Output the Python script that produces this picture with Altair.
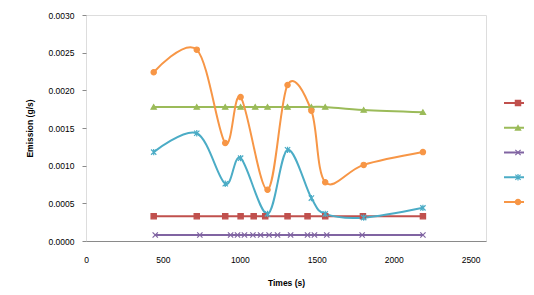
import altair as alt
import pandas as pd

# ---- data ----
series_names = ["Series2", "Series3", "Series4", "Series5", "Series6"]
series_colors = ["#C0504D", "#9BBB59", "#8064A2", "#4BACC6", "#F79646"]

t_red = [440, 720, 905, 1005, 1090, 1165, 1310, 1440, 1555, 1800, 2190]
v_red = [0.00033, 0.00033, 0.00033, 0.00033, 0.00033, 0.00033, 0.00033, 0.00033, 0.00033, 0.00033, 0.00033]

t_green = [440, 720, 905, 1005, 1100, 1180, 1310, 1465, 1555, 1805, 2190]
v_green = [0.00178, 0.00178, 0.00178, 0.00178, 0.00178, 0.00178, 0.00178, 0.00178, 0.00178, 0.00174, 0.00171]

t_purple = [450, 740, 940, 985, 1030, 1085, 1135, 1190, 1245, 1330, 1440, 1485, 1565, 1795, 2190]
v_purple = [0.00008] * 15

t_teal = [440, 720, 905, 1005, 1180, 1310, 1465, 1555, 1805, 2190]
v_teal = [0.00118, 0.00143, 0.00076, 0.00110, 0.00036, 0.00121, 0.00057, 0.00036, 0.00031, 0.00044]

t_orange = [440, 720, 905, 1005, 1180, 1310, 1465, 1555, 1805, 2190]
v_orange = [0.00224, 0.00254, 0.00130, 0.00191, 0.00068, 0.00207, 0.00173, 0.00078, 0.00101, 0.00118]

x_ticks = [0, 500, 1000, 1500, 2000, 2500]

shape_x = "M-1,-1L1,1M1,-1L-1,1"
shape_star = "M-1,-1L1,1M1,-1L-1,1M0,-1.2L0,1.2"
series_shapes = ["square", "triangle-up", shape_x, shape_star, "circle"]

rows = []
for name, ts, vs in zip(series_names,
                        [t_red, t_green, t_purple, t_teal, t_orange],
                        [v_red, v_green, v_purple, v_teal, v_orange]):
    for t, v in zip(ts, vs):
        rows.append({"series": name, "t": t, "v": v})
df = pd.DataFrame(rows)

color_scale = alt.Scale(domain=series_names, range=series_colors)
shape_scale = alt.Scale(domain=series_names, range=series_shapes)

x_enc = alt.X("t:Q", scale=alt.Scale(domain=[0, 2500]),
              axis=alt.Axis(values=x_ticks, format="d", title="Times (s)", grid=False,
                            ticks=False, labelFlush=False, labelPadding=14,
                            labelOverlap=False,
                            domainColor="#8a8a8a", titlePadding=15,
                            labelFontSize=8.5, titleFontSize=8.5))
y_enc = alt.Y("v:Q", scale=alt.Scale(domain=[0, 0.003], nice=False),
              axis=alt.Axis(tickCount=7, format=".4f", title="Emission (g/s)",
                            grid=False, domain=False, tickSize=4, tickColor="#8a8a8a",
                            labelPadding=8, titlePadding=14, labelOverlap=False,
                            labelFlush=False, labelBound=False, labelSeparation=0,
                            labelFontSize=8.5, titleFontSize=8.5))

base = alt.Chart(df)
lines = base.mark_line(interpolate="cardinal", strokeWidth=2).encode(
    x=x_enc, y=y_enc,
    color=alt.Color("series:N", scale=color_scale, legend=None),
    detail="series:N",
)
points = base.mark_point(filled=True, size=28, strokeWidth=1.2, opacity=1).encode(
    x="t:Q", y="v:Q",
    shape=alt.Shape("series:N", scale=shape_scale, legend=None),
    fill=alt.Fill("series:N", scale=color_scale, legend=None),
    stroke=alt.Stroke("series:N", scale=color_scale, legend=None),
)
main = alt.layer(lines, points).properties(width=400, height=226)

leg_df = pd.DataFrame({"series": series_names})
leg_y = alt.Y("series:N", sort=series_names,
              scale=alt.Scale(type="point", range=[88, 187], padding=0), axis=None)
leg_rule = alt.Chart(leg_df).mark_rule(strokeWidth=2).encode(
    y=leg_y, x=alt.value(0), x2=alt.value(20),
    color=alt.Color("series:N", scale=color_scale, legend=None),
)
leg_pt = alt.Chart(leg_df).mark_point(filled=True, size=28, strokeWidth=1.2, opacity=1).encode(
    y=leg_y, x=alt.value(14),
    shape=alt.Shape("series:N", scale=shape_scale, legend=None),
    fill=alt.Fill("series:N", scale=color_scale, legend=None),
    stroke=alt.Stroke("series:N", scale=color_scale, legend=None),
)
legend = alt.layer(leg_rule, leg_pt).properties(
    width=20, height=226, view=alt.ViewBackground(stroke=None))

chart = alt.hconcat(main, legend, spacing=16).properties(
    padding={"left": 16, "top": 2, "right": 0, "bottom": 0}
).configure_view(stroke=None).configure_axis(
    labelColor="#555555", titleColor="#333333", labelFont="Liberation Sans",
    titleFont="Liberation Sans", titleFontWeight="bold", labelOverlap=False
).configure(background="white")

chart.save("out.html", embed_options={"renderer": "svg", "actions": False})
